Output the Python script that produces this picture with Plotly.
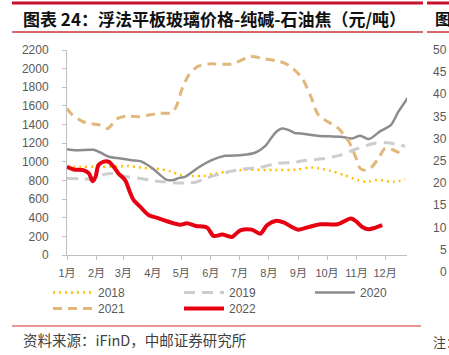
import datetime as dt
import plotly.graph_objects as go

# ---------------- data (day of year offset, value) ----------------
days_2018 = [0, 15, 30, 45, 63, 80, 98, 108, 119, 133, 143, 154, 166, 187, 219, 240, 257, 276, 291, 305, 315, 325, 343, 355]
vals_2018 = [945, 945, 948, 946, 955, 935, 921, 900, 860, 848, 848, 870, 892, 915, 911, 915, 940, 905, 857, 805, 785, 805, 785, 810]

days_2019 = [0, 15, 28, 38, 49, 63, 77, 87, 101, 118, 128, 135, 145, 163, 184, 201, 221, 239, 245, 270, 287, 305, 322, 336, 355]
vals_2019 = [821, 818, 812, 862, 875, 839, 821, 803, 785, 772, 776, 780, 821, 875, 921, 935, 985, 993, 1007, 1036, 1072, 1143, 1197, 1204, 1168]

days_2020 = [0, 10, 28, 35, 44, 56, 68, 77, 82, 91, 98, 105, 112, 118, 124, 138, 152, 166, 184, 198, 208, 219, 226, 233, 239, 245, 263, 287, 299, 308, 317, 329, 340, 348, 358]
vals_2020 = [1136, 1125, 1129, 1100, 1054, 1036, 1018, 1007, 982, 921, 857, 806, 806, 828, 839, 939, 1018, 1064, 1072, 1100, 1168, 1315, 1358, 1340, 1310, 1305, 1280, 1269, 1251, 1280, 1244, 1330, 1394, 1538, 1688]

days_2021 = [0, 5, 17, 26, 35, 43, 52, 63, 75, 86, 98, 110, 115, 121, 128, 137, 149, 173, 189, 194, 208, 219, 229, 236, 247, 256, 264, 277, 285, 296, 303, 308, 313, 319, 327, 334, 347, 349]
vals_2021 = [1573, 1509, 1430, 1409, 1394, 1358, 1459, 1491, 1484, 1502, 1520, 1527, 1600, 1788, 1932, 2021, 2050, 2050, 2118, 2129, 2104, 2086, 2057, 2011, 1896, 1699, 1502, 1412, 1358, 1215, 1054, 928, 910, 935, 1036, 1143, 1107, 1090]

days_2022 = [0, 7, 17, 23, 27, 30, 33, 38, 44, 49, 54, 61, 66, 70, 77, 86, 95, 105, 113, 119, 126, 135, 147, 154, 163, 173, 182, 194, 203, 210, 219, 228, 236, 243, 254, 266, 284, 298, 303, 310, 317, 324, 331]
vals_2022 = [946, 917, 910, 875, 792, 839, 964, 1000, 1000, 946, 875, 803, 677, 588, 516, 426, 398, 362, 337, 325, 340, 312, 294, 204, 219, 194, 265, 272, 229, 319, 366, 348, 301, 272, 301, 330, 330, 391, 366, 301, 276, 294, 320]

month_labels = ["1月", "2月", "3月", "4月", "5月", "6月", "7月", "8月", "9月", "10月", "11月", "12月"]
y_ticks = list(range(0, 2201, 200))
neighbor_ticks = [50, 45, 40, 35, 30, 25, 20, 15, 10, 5, 0]

title_text = "图表 24：浮法平板玻璃价格-纯碱-石油焦（元/吨）"
source_text = "资料来源：iFinD，中邮证券研究所"

# ---------------- figure ----------------
W, H = 449, 355
ML, MR, MT, MB = 67, 42, 50, 100
PW, PH = W - ML - MR, H - MT - MB

base = dt.date(2022, 1, 1)


def to_dates(days):
    return [base + dt.timedelta(days=d) for d in days]


def px(x):
    return (x - ML) / PW


def py(y):
    return (H - MB - y) / PH


series = [
    ("2018", days_2018, vals_2018, "#FFC000", 2.5, "2px,4px", "legend"),
    ("2019", days_2019, vals_2019, "#CDCDCD", 3, "11px,7px", "legend"),
    ("2020", days_2020, vals_2020, "#8C8C8C", 2.5, "solid", "legend"),
    ("2021", days_2021, vals_2021, "#E2B77C", 3, "9px,6px", "legend2"),
    ("2022", days_2022, vals_2022, "#E60012", 4, "solid", "legend2"),
]

fig = go.Figure()
for name, d, v, color, w, dash, lg in series:
    fig.add_trace(go.Scatter(
        x=to_dates(d), y=v, name=name, mode="lines", legend=lg,
        line=dict(color=color, width=w, dash=dash, shape="spline", smoothing=0.8),
    ))

tick_font = dict(family="Liberation Sans, Noto Sans CJK SC, sans-serif", size=11, color="#595959")
legend_common = dict(
    orientation="h", xanchor="left", yanchor="top",
    entrywidth=76, entrywidthmode="pixels", itemwidth=40,
    font=dict(family="Liberation Sans, sans-serif", size=12, color="#595959"),
    bgcolor="rgba(0,0,0,0)", tracegroupgap=0,
)

fig.update_layout(
    width=W, height=H,
    margin=dict(l=ML, r=MR, t=MT, b=MB, pad=0, autoexpand=False),
    paper_bgcolor="white", plot_bgcolor="white",
    showlegend=True,
    legend=dict(x=px(48), y=py(278), **legend_common),
    legend2=dict(x=px(48), y=py(294), **legend_common),
    xaxis=dict(
        type="date",
        range=[base, base + dt.timedelta(days=357.5)],
        tickvals=[dt.date(2022, m, 1) for m in range(1, 13)],
        ticktext=month_labels,
        showgrid=False, zeroline=False,
        showline=True, linecolor="#BFBFBF", linewidth=1,
        ticks="outside", ticklen=4, tickcolor="#BFBFBF",
        ticklabelstandoff=4,
        tickfont=tick_font,
    ),
    yaxis=dict(
        range=[0, 2200], tickvals=y_ticks,
        showgrid=False, zeroline=False,
        showline=True, linecolor="#BFBFBF", linewidth=1,
        ticks="outside", ticklen=4, tickcolor="#BFBFBF",
        ticklabelstandoff=11,
        tickfont=dict(family="Liberation Sans, sans-serif", size=12, color="#595959"),
    ),
)

ann = []
ann.append(dict(text="<b>" + title_text + "</b>", x=px(21), y=py(18), xref="paper", yref="paper",
                xanchor="left", yanchor="middle", showarrow=False,
                font=dict(family="Noto Sans CJK SC", size=17, color="#111111")))
ann.append(dict(text="<b>图</b>", x=px(433), y=py(18), xref="paper", yref="paper",
                xanchor="left", yanchor="middle", showarrow=False,
                font=dict(family="Noto Sans CJK SC", size=16, color="#111111")))
ann.append(dict(text=source_text, x=px(21), y=py(339), xref="paper", yref="paper",
                xanchor="left", yanchor="middle", showarrow=False,
                font=dict(family="Noto Sans CJK SC", size=14.5, color="#404040")))
ann.append(dict(text="注：", x=px(431), y=py(341), xref="paper", yref="paper",
                xanchor="left", yanchor="middle", showarrow=False,
                font=dict(family="Noto Sans CJK SC", size=13, color="#404040")))
for i, t in enumerate(neighbor_ticks):
    ann.append(dict(text=str(t), x=px(448.5), y=py(50 + i * 22.2), xref="paper", yref="paper",
                    xanchor="right", yanchor="middle", showarrow=False,
                    font=dict(family="Liberation Sans, sans-serif", size=12, color="#595959")))
fig.update_layout(annotations=ann)

shapes = []
for x0, x1 in [(12, 423), (427, 449)]:
    shapes.append(dict(type="line", xref="paper", yref="paper", x0=px(x0), x1=px(x1),
                       y0=py(3), y1=py(3), line=dict(color="#C8102E", width=3)))
    shapes.append(dict(type="line", xref="paper", yref="paper", x0=px(x0), x1=px(x1),
                       y0=py(32), y1=py(32), line=dict(color="#C9343A", width=1.5)))
shapes.append(dict(type="line", xref="paper", yref="paper", x0=px(12), x1=px(421),
                   y0=py(326), y1=py(326), line=dict(color="#E57373", width=1.5)))
fig.update_layout(shapes=shapes)

fig.write_html(
    "out.html",
    config={"displayModeBar": False},
    post_script="document.body.style.margin='0px';document.body.style.overflow='hidden';",
)
